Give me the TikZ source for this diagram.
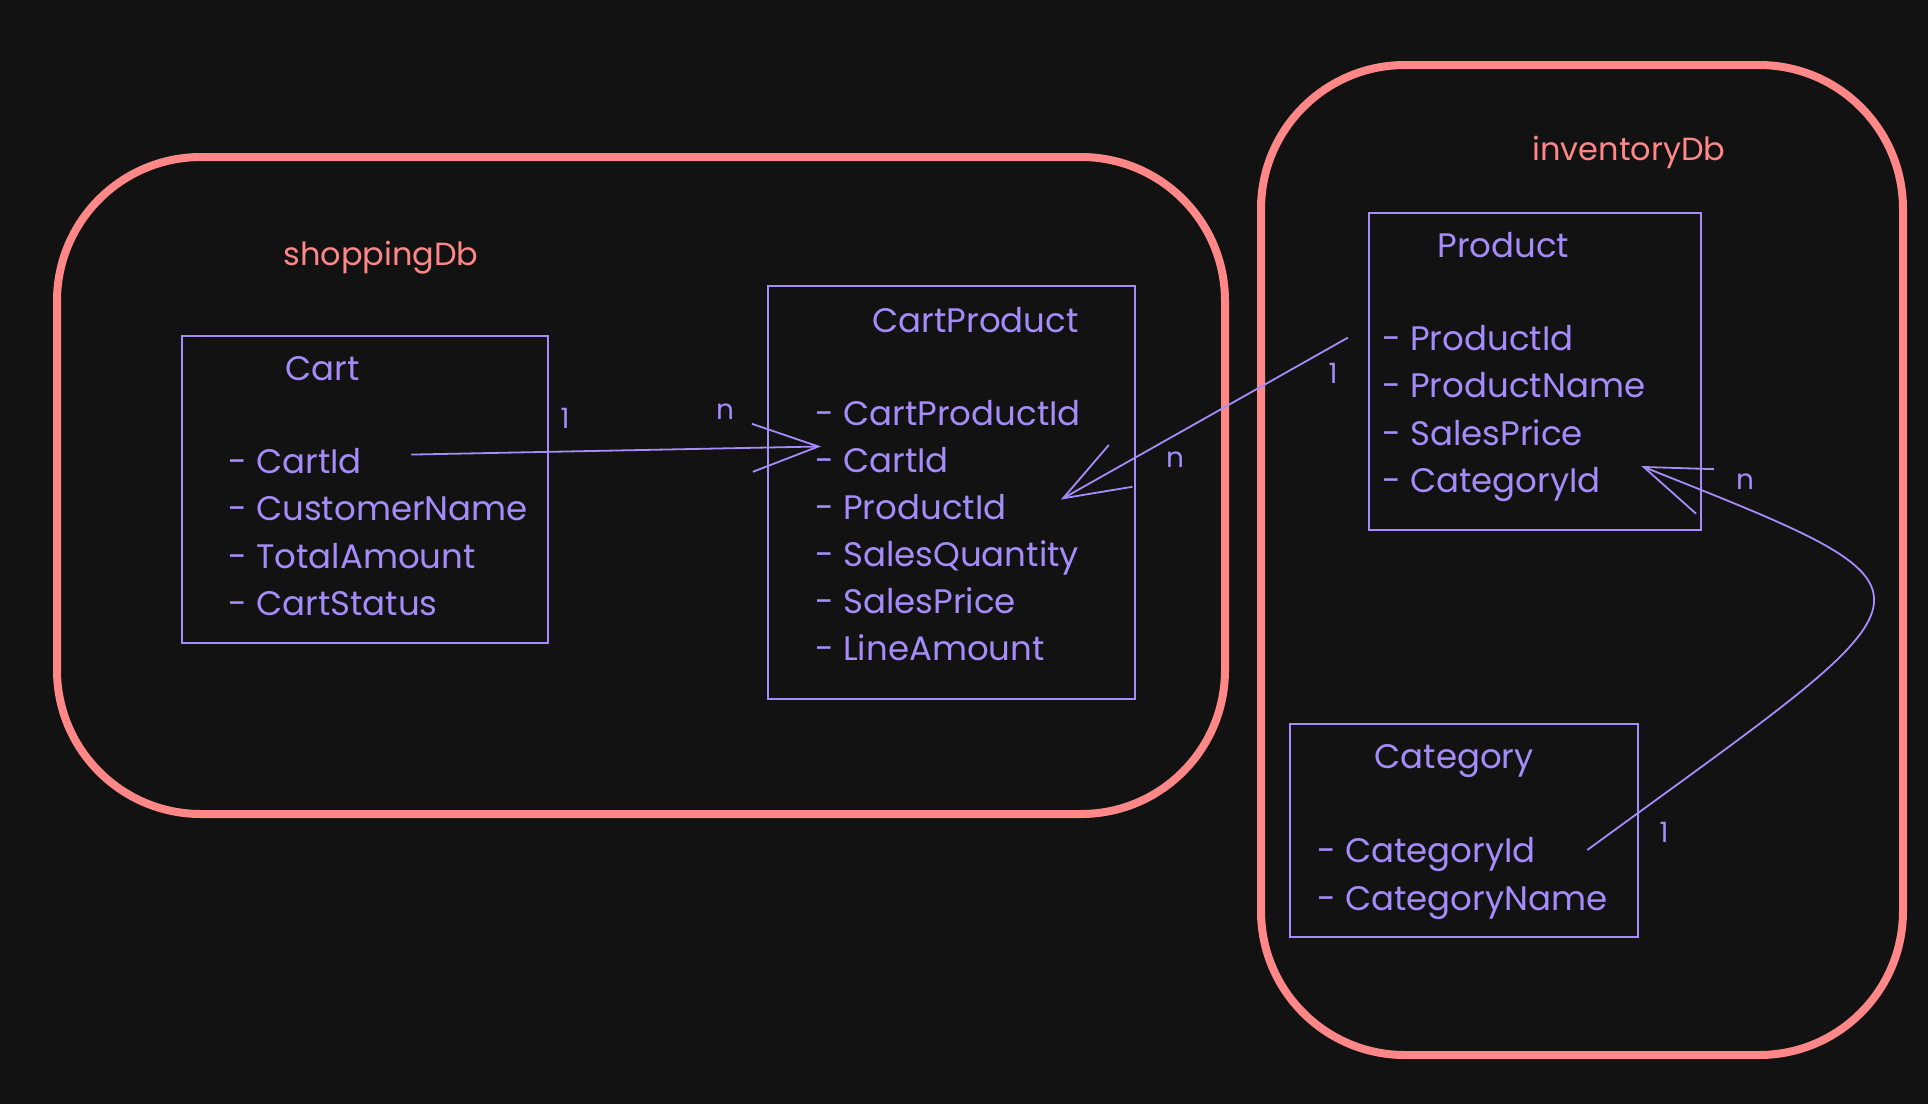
\documentclass[tikz,border=0pt]{standalone}
\usepackage{fontspec}
\setmainfont{Poppins}
\usepackage{tikz}
\usetikzlibrary{arrows.meta,positioning}
\definecolor{bg}{HTML}{121212}
\definecolor{salmon}{HTML}{FF8787}
\definecolor{violet}{HTML}{A58CFA}
\tikzset{
	frame/.style = {draw=salmon, line width=4pt, rounded corners=72pt},
	table/.style = {draw=violet, line width=1pt, rectangle, inner sep=0pt, anchor=north west},
	title/.style = {text=violet, font=\fontsize{17}{20}\selectfont, anchor=base west, inner sep=0pt},
	field/.style = {title},
	dbname/.style = {text=salmon, font=\fontsize{16}{19}\selectfont, anchor=base west, inner sep=0pt},
	card/.style = {text=violet, font=\fontsize{14}{17}\selectfont, inner sep=0pt},
	rel/.style = {draw=violet, line width=0.9pt, -{Straight Barb[length=33pt,width=24pt]}}
}
\begin{document}
\begin{tikzpicture}[x=0.5pt, y=-0.5pt]
	\fill[bg] (0,0) rectangle (1928,1104);
	\useasboundingbox (0,0) rectangle (1928,1104);

	\draw[frame] (57,157) rectangle (1225,814);
	\draw[frame] (1261,65) rectangle (1903,1055);
	\node[dbname] (shop) at (283,265) {shoppingDb};
	\node[dbname] (inv) at (1532,160) {inventoryDb};

	\node[table, minimum width=183pt, minimum height=153.5pt] (cart) at (181,335) {};
	\node[title] (cart-title) at (285,380) {Cart};
	\node[field] (cart-id) at (228,473) {- CartId};
	\node[field] (cart-name) at (228,520) {- CustomerName};
	\node[field] (cart-total) at (228,568) {- TotalAmount};
	\node[field] (cart-status) at (228,615) {- CartStatus};

	\node[table, minimum width=183.5pt, minimum height=206.5pt] (cartprod) at (767,285) {};
	\node[title] (cp-title) at (872,332) {CartProduct};
	\node[field] (cp-id) at (815,425) {- CartProductId};
	\node[field] (cp-cartid) at (815,472) {- CartId};
	\node[field] (cp-prodid) at (815,519) {- ProductId};
	\node[field] (cp-qty) at (815,566) {- SalesQuantity};
	\node[field] (cp-price) at (815,613) {- SalesPrice};
	\node[field] (cp-amount) at (815,660) {- LineAmount};

	\node[table, minimum width=166pt, minimum height=158.5pt] (product) at (1368,212) {};
	\node[title] (prod-title) at (1437,257) {Product};
	\node[field] (prod-id) at (1382,350) {- ProductId};
	\node[field] (prod-name) at (1382,397) {- ProductName};
	\node[field] (prod-price) at (1382,445) {- SalesPrice};
	\node[field] (prod-catid) at (1382,492) {- CategoryId};

	\node[table, minimum width=174pt, minimum height=106.5pt] (category) at (1289,723) {};
	\node[title] (cat-title) at (1374,768) {Category};
	\node[field] (cat-id) at (1317,862) {- CategoryId};
	\node[field] (cat-name) at (1317,910) {- CategoryName};

	\draw[rel] ([xshift=24.5pt,yshift=3pt]cart-id.east) -- ([xshift=3pt]cp-cartid.north west);
	\draw[rel] ([xshift=-17pt]prod-id.west) -- ([xshift=27pt,yshift=3.5pt]cp-prodid.east);
	\draw[rel] ([xshift=25.5pt,yshift=2pt]cat-id.east) .. controls +(364,-266) and +(326,130) .. ([xshift=20pt,yshift=9pt]prod-catid.east);

	\node[card] (c1) at (565,418) {1};
	\node[card] (c2) at (725,412) {n};
	\node[card] (c3) at (1333,373) {1};
	\node[card] (c4) at (1175,460) {n};
	\node[card] (c5) at (1745,482) {n};
	\node[card] (c6) at (1664,832) {1};
\end{tikzpicture}
\end{document}
